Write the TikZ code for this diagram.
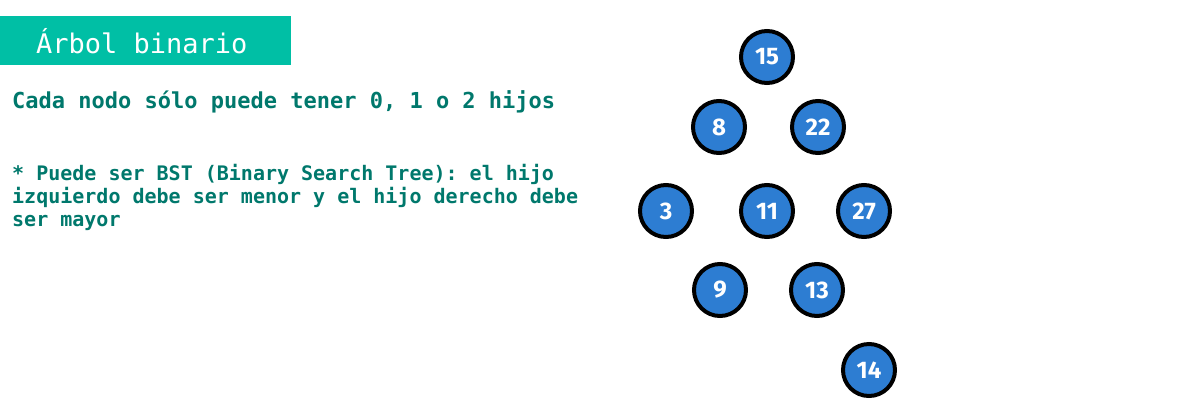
\documentclass[tikz,border=0pt]{standalone}
\usepackage{fontspec}
\setmonofont{DejaVu Sans Mono}
\setsansfont{Fira Sans}
\definecolor{banner}{RGB}{0,191,165}
\definecolor{darkteal}{RGB}{0,120,108}
\definecolor{nodeblue}{RGB}{45,125,210}
\tikzset{%
  % circles of the tree
  treenode/.style = {circle, draw=black, line width=4pt, fill=nodeblue,
                     minimum size=52pt, inner sep=0pt, text=white,
                     font=\sffamily\bfseries\fontsize{24}{24}\selectfont},
  note/.style = {anchor=west, text=darkteal, inner sep=0pt,
                 font=\ttfamily\bfseries\fontsize{20}{23}\selectfont},
}
\begin{document}
\begin{tikzpicture}[x=1pt, y=-1pt]
  \useasboundingbox (0,0) rectangle (1200,400);
  % title banner
  \fill[banner] (0,16) rectangle (291,65);
  \node (title) [anchor=west, text=white, inner sep=0pt,
        font=\ttfamily\fontsize{27}{27}\selectfont] at (36,41) {Árbol binario};
  % notes
  \node (rule) [note, font=\ttfamily\bfseries\fontsize{22}{22}\selectfont] at (12,102)
        {Cada nodo sólo puede tener 0, 1 o 2 hijos};
  \node (bst) [note, align=left, anchor=north west] at (12,164)
        {* Puede ser BST (Binary Search Tree): el hijo\\
         izquierdo debe ser menor y el hijo derecho debe\\
         ser mayor};
  % tree nodes
  \node (n15) [treenode] at (767,57)  {15};
  \node (n8)  [treenode] at (719,127) {8};
  \node (n22) [treenode] at (818,127) {22};
  \node (n3)  [treenode] at (666,211) {3};
  \node (n11) [treenode] at (767,211) {11};
  \node (n27) [treenode] at (864,211) {27};
  \node (n9)  [treenode] at (720,290) {9};
  \node (n13) [treenode] at (817,290) {13};
  \node (n14) [treenode] at (869,370) {14};
\end{tikzpicture}
\end{document}
